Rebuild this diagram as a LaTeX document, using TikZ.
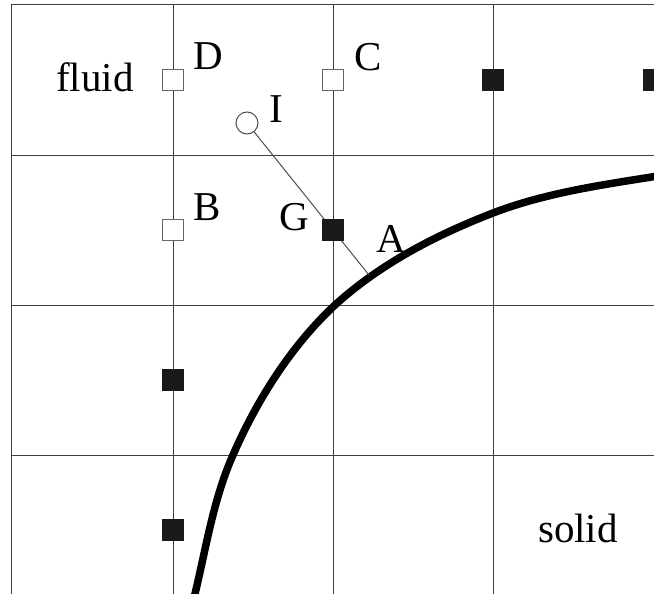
\documentclass[tikz,border=0pt]{standalone}
\usepackage{fontspec}
\setmainfont{Liberation Serif}
\begin{document}
\begin{tikzpicture}[x=1pt,y=-1pt,
  gridline/.style={line width=1pt,draw=black!75},
  opensq/.style={draw=black!60,line width=1pt,fill=white,minimum size=21pt,inner sep=0pt,shape=rectangle},
  fullsq/.style={draw=black!90,fill=black!90,line width=0.6pt,minimum size=21pt,inner sep=0pt,shape=rectangle},
  lbl/.style={font=\fontsize{41}{48}\selectfont,inner sep=0pt,anchor=base},
  interp/.style={draw=black!70,line width=1pt,circle,minimum size=22pt,inner sep=0pt,fill=white}]
\useasboundingbox (0,0) rectangle (654,594);
% grid
\foreach \x in {11,173,333,493} \draw[gridline] (\x,5) -- (\x,594);
\foreach \y in {5,155,305,455} \draw[gridline] (11,\y) -- (654,\y);
% boundary curve
\coordinate (A) at (369,275);
\draw[line width=7.5pt,black] (194,598)
  .. controls (206,549) and (213,500) .. (233,455)
  .. controls (257,400) and (291,346) .. (335,305)
  .. controls (380,264) and (436,235) .. (493,213)
  .. controls (545,193) and (601,185) .. (658,176);
% interpolation line
\node[interp] (I) at (247,123) {};
\draw[line width=1pt,black!70] (I) -- (A);
% open squares
\node[opensq] (D) at (173,80) {};
\node[opensq] (C) at (333,80) {};
\node[opensq] (B) at (173,230) {};
% filled squares
\node[fullsq] (G) at (333,230) {};
\node[fullsq] (S1) at (493,80) {};
\node[fullsq] (S2) at (654,80) {};
\node[fullsq] (S3) at (173,380) {};
\node[fullsq] (S4) at (173,530) {};
% labels
\node[lbl] (tfluid) at (95,92) {fluid};
\node[lbl] (tD) at (208,70) {D};
\node[lbl] (tC) at (368,71) {C};
\node[lbl] (tI) at (276,122) {I};
\node[lbl] (tB) at (207,220) {B};
\node[lbl] (tG) at (294,230) {G};
\node[lbl] (tA) at (391,252) {A};
\node[lbl] (tsolid) at (578,542) {solid};
\end{tikzpicture}
\end{document}
